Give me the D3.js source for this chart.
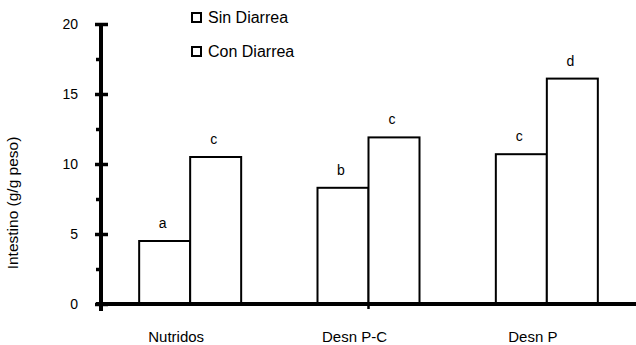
<!DOCTYPE html>
<html>
<head>
<meta charset="utf-8">
<script src="https://cdn.jsdelivr.net/npm/d3@7"></script>
<style>
  html, body { margin: 0; padding: 0; background: #fff; }
  svg { display: block; }
  text { font-family: "Liberation Sans", Arial, sans-serif; fill: #000; }
</style>
</head>
<body>
<svg id="chart" width="636" height="345"></svg>
<script>
// Intestine weight by nutritional group, with and without diarrhoea
const categories = ["Nutridos", "Desn P-C", "Desn P"];
const seriesNames = ["Sin Diarrea", "Con Diarrea"];
const sinDiarrea = [4.5, 8.3, 10.7];
const conDiarrea = [10.5, 11.9, 16.1];
const sinLetters = ["a", "b", "c"];
const conLetters = ["c", "c", "d"];
const majorTicks = [0, 5, 10, 15, 20];
const minorTicks = [2.5, 7.5, 12.5, 17.5];
const yTitle = "Intestino (g/g peso)";

const svg = d3.select("#chart");
const x0 = 101, x1 = 636, yTop = 24, yBase = 304;

const x = d3.scaleBand().domain(categories).range([x0, x1]).padding(0);
const xs = d3.scaleBand().domain(seriesNames).range([-51, 51]).padding(0);
const y = d3.scaleLinear().domain([0, 20]).range([yBase, yTop]);

const rows = categories.map((c, i) => ({
  cat: c,
  vals: [
    { s: seriesNames[0], v: sinDiarrea[i], l: sinLetters[i] },
    { s: seriesNames[1], v: conDiarrea[i], l: conLetters[i] }
  ]
}));

// bars
const g = svg.append("g");
const groups = g.selectAll("g.grp").data(rows).join("g")
  .attr("class", "grp")
  .attr("transform", d => `translate(${x(d.cat) + x.bandwidth() / 2},0)`);

groups.selectAll("rect").data(d => d.vals).join("rect")
  .attr("x", d => xs(d.s))
  .attr("width", xs.bandwidth())
  .attr("y", d => y(d.v))
  .attr("height", d => y(0) - y(d.v))
  .attr("fill", "#fff")
  .attr("stroke", "#000")
  .attr("stroke-width", 2);

groups.selectAll("text.lbl").data(d => d.vals).join("text")
  .attr("class", "lbl")
  .attr("x", d => xs(d.s) + xs.bandwidth() / 2 - 2)
  .attr("y", d => y(d.v) - 13)
  .attr("text-anchor", "middle")
  .style("font-size", "14px")
  .text(d => d.l);

// y axis: labels and left half of major ticks
const yAxisL = d3.axisLeft(y).tickValues(majorTicks).tickSize(6).tickPadding(17)
  .tickFormat(d3.format("d"));
const ya = svg.append("g").attr("transform", `translate(${x0},0)`).call(yAxisL);
ya.select(".domain").remove();
ya.selectAll(".tick line").attr("stroke", "#000").attr("stroke-width", 3.5);
ya.selectAll(".tick text").style("font-size", "14px").attr("fill", "#000")
  .style("font-family", "'Liberation Sans', Arial, sans-serif");

// right half of major ticks
const yAxisR = d3.axisRight(y).tickValues(majorTicks).tickSize(7).tickFormat("");
const yr = svg.append("g").attr("transform", `translate(${x0},0)`).call(yAxisR);
yr.select(".domain").remove();
yr.selectAll(".tick line").attr("stroke", "#000").attr("stroke-width", 3.5);

// minor ticks
const yAxisM = d3.axisLeft(y).tickValues(minorTicks).tickSize(5).tickFormat("");
const ym = svg.append("g").attr("transform", `translate(${x0},0)`).call(yAxisM);
ym.select(".domain").remove();
ym.selectAll(".tick line").attr("stroke", "#000").attr("stroke-width", 3.5);

// axis lines
svg.append("line")
  .attr("x1", x0).attr("x2", x0)
  .attr("y1", y(20)).attr("y2", y(0) + 7)
  .attr("stroke", "#000").attr("stroke-width", 4);
svg.append("line")
  .attr("x1", x0 - 5).attr("x2", x1)
  .attr("y1", y(0)).attr("y2", y(0))
  .attr("stroke", "#000").attr("stroke-width", 4);

// category boundary tick
svg.append("line")
  .attr("x1", x(categories[1]) + x.bandwidth() / 2).attr("x2", x(categories[1]) + x.bandwidth() / 2)
  .attr("y1", y(0)).attr("y2", y(0) + 5)
  .attr("stroke", "#000").attr("stroke-width", 2.5);

// category labels
svg.append("g").selectAll("text").data(categories).join("text")
  .attr("x", d => x(d) + x.bandwidth() / 2 - 14)
  .attr("y", 342)
  .attr("text-anchor", "middle")
  .style("font-size", "15px")
  .text(d => d);

// y title
svg.append("text")
  .attr("transform", `translate(18,${203}) rotate(-90)`)
  .attr("text-anchor", "middle")
  .style("font-size", "15.5px")
  .text(yTitle);

// legend
const leg = svg.append("g").selectAll("g").data(seriesNames).join("g")
  .attr("transform", (d, i) => `translate(192,${13 + i * 34})`);
leg.append("rect")
  .attr("width", 9).attr("height", 9)
  .attr("fill", "#fff").attr("stroke", "#000").attr("stroke-width", 2);
leg.append("text")
  .attr("x", 16).attr("y", 10)
  .style("font-size", "16px")
  .text(d => d);
</script>
</body>
</html>
